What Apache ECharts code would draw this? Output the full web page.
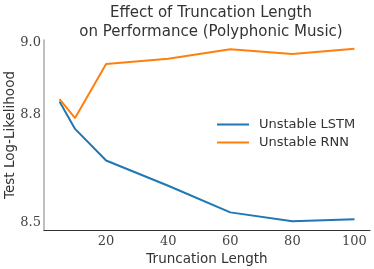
<!DOCTYPE html>
<html><head><meta charset="utf-8">
<script src="https://cdn.jsdelivr.net/npm/echarts@6/dist/echarts.min.js"></script>
<style>html,body{margin:0;padding:0;background:#fff}#c{width:374px;height:269px}</style>
</head><body><div id="c"></div>
<script>
const truncLengths = [5, 10, 20, 40, 60, 80, 100];
const lstmValues = [8.837, 8.761, 8.673, 8.603, 8.529, 8.504, 8.510];
const rnnValues = [8.844, 8.791, 8.941, 8.956, 8.982, 8.969, 8.984];
const yTicks = [8.5, 8.8, 9.0];
const xTicks = [20, 40, 60, 80, 100];
const seriesNames = ['Unstable LSTM', 'Unstable RNN'];

const chart = echarts.init(document.getElementById('c'));
const sans = 'DejaVu Sans';
const serif = 'DejaVu Serif';
chart.setOption({
  animation: false,
  title: {
    text: 'Effect of Truncation Length\non Performance (Polyphonic Music)',
    left: 206, textAlign: 'center', top: -1,
    textStyle: {fontFamily: sans, fontWeight: 'normal', fontSize: 15, color: '#333', lineHeight: 19}
  },
  legend: {
    data: seriesNames, orient: 'vertical', left: 212, top: 113,
    itemWidth: 32, itemHeight: 2, itemGap: 5, icon: 'rect',
    textStyle: {fontFamily: sans, fontSize: 13, color: '#333', padding: [0, 0, 0, 5]}
  },
  grid: {left: 44, right: 4, top: 40, bottom: 39, outerBoundsMode: 'none', containLabel: false},
  xAxis: {
    type: 'value', min: 0, max: 105,
    name: 'Truncation Length', nameLocation: 'middle', nameGap: 22, nameMoveOverlap: false,
    nameTextStyle: {fontFamily: sans, fontSize: 13.5, color: '#333'},
    axisLine: {lineStyle: {color: '#333', width: 1.2}},
    axisTick: {show: false}, splitLine: {show: false},
    axisLabel: {
      fontFamily: serif, fontSize: 13, color: '#444', margin: 5,
      customValues: xTicks, formatter: v => String(v)
    }
  },
  yAxis: {
    type: 'value', min: 8.48, max: 9.008,
    name: 'Test Log-Likelihood', nameLocation: 'middle', nameGap: 27, nameMoveOverlap: false,
    nameTextStyle: {fontFamily: sans, fontSize: 13.5, color: '#333'},
    axisLine: {show: true, lineStyle: {color: '#aaa', width: 1.5}},
    axisTick: {show: false}, splitLine: {show: false},
    axisLabel: {
      fontFamily: serif, fontSize: 13, color: '#444', margin: 3,
      customValues: yTicks, formatter: v => v.toFixed(1)
    }
  },
  series: [
    {name: seriesNames[0], type: 'line', data: truncLengths.map((x, i) => [x, lstmValues[i]]),
     showSymbol: false, lineStyle: {color: '#1f77b4', width: 2}, itemStyle: {color: '#1f77b4'}},
    {name: seriesNames[1], type: 'line', data: truncLengths.map((x, i) => [x, rnnValues[i]]),
     showSymbol: false, lineStyle: {color: '#ff7f0e', width: 2}, itemStyle: {color: '#ff7f0e'}}
  ]
});
</script></body></html>
